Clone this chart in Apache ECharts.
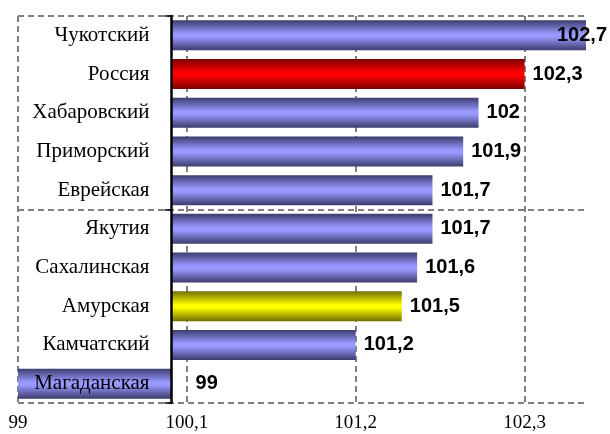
<!DOCTYPE html>
<html>
<head>
<meta charset="utf-8">
<script src="https://cdn.jsdelivr.net/npm/echarts@6/dist/echarts.min.js"></script>
<style>
html,body{margin:0;padding:0;background:#fff;}
#c{width:610px;height:434px;}
</style>
</head>
<body>
<div id="c"></div>
<script>
// ---- data ----
const categories = ['Чукотский','Россия','Хабаровский','Приморский','Еврейская','Якутия','Сахалинская','Амурская','Камчатский','Магаданская'];
const values = [102.7, 102.3, 102, 101.9, 101.7, 101.7, 101.6, 101.5, 101.2, 99];
const baseValue = 100;          // value where the category axis crosses
const axisMin = 99, axisMax = 102.7, axisStep = 1.1;

// ---- styles ----
const grad = (edge, mid) => new echarts.graphic.LinearGradient(0, 0, 0, 1, [
  {offset: 0, color: edge}, {offset: 0.45, color: mid}, {offset: 0.55, color: mid}, {offset: 1, color: edge}
]);
const normalFill = grad('#3c3c6e', '#9999ff');
const specialFill = {
  'Россия': grad('#7a0000', '#ff0000'),
  'Амурская': grad('#6e6e00', '#ffff00')
};
const fmt = v => String(Math.round(v * 10) / 10).replace('.', ',');

const chart = echarts.init(document.getElementById('c'));
chart.setOption({
  animation: false,
  backgroundColor: '#ffffff',
  grid: {left: 18, right: 24, top: 16, bottom: 31, containLabel: false, outerBoundsMode: 'none'},
  xAxis: {
    type: 'value',
    min: axisMin - baseValue,
    max: axisMax - baseValue,
    interval: axisStep,
    axisLine: {show: false},
    axisTick: {show: false},
    axisLabel: {
      showMaxLabel: false,
      margin: 11,
      fontFamily: 'Liberation Serif',
      fontSize: 19,
      color: '#000',
      formatter: v => fmt(v + baseValue)
    },
    splitLine: {
      show: true,
      lineStyle: {color: ['#808080','#808080','#808080','#808080','rgba(0,0,0,0)'], width: 2, type: [6, 4]}
    }
  },
  yAxis: [{
    type: 'category',
    data: categories,
    inverse: true,
    z: 10,
    axisLine: {show: false},
    axisTick: {show: false},
    axisLabel: {show: false},
    splitLine: {
      show: true,
      interval: 4,
      lineStyle: {color: '#808080', width: 2, type: [6, 4]}
    }
  }, {
    type: 'category',
    data: categories,
    inverse: true,
    position: 'left',
    z: 10,
    axisLine: {show: true, onZero: false, lineStyle: {color: '#000', width: 2.5}},
    axisTick: {show: true, interval: 4, length: 7, lineStyle: {color: '#000', width: 1.5}},
    axisLabel: {
      margin: 22,
      fontFamily: 'Liberation Serif',
      fontSize: 21,
      color: '#000'
    },
    splitLine: {show: false}
  }],
  series: [{
    type: 'bar',
    barWidth: 30,
    data: values.map((v, i) => {
      const item = {
        value: v - baseValue,
        itemStyle: {color: specialFill[categories[i]] || normalFill}
      };
      if (i === 0) item.label = {position: 'insideRight', distance: 0, offset: [21, 0]};
      if (v < baseValue) item.label = {position: 'right', distance: 24};
      return item;
    }),
    label: {
      show: true,
      position: 'right',
      distance: 8,
      fontFamily: 'Liberation Sans',
      fontWeight: 'bold',
      fontSize: 20,
      color: '#000',
      formatter: p => fmt(values[p.dataIndex])
    }
  }]
});
// move the visible category axis to where the value axis reads baseValue
const xBase = chart.convertToPixel({xAxisIndex: 0}, 0);
const xLeft = chart.convertToPixel({xAxisIndex: 0}, axisMin - baseValue);
chart.setOption({yAxis: [{}, {offset: -(xBase - xLeft)}]});
</script>
</body>
</html>
